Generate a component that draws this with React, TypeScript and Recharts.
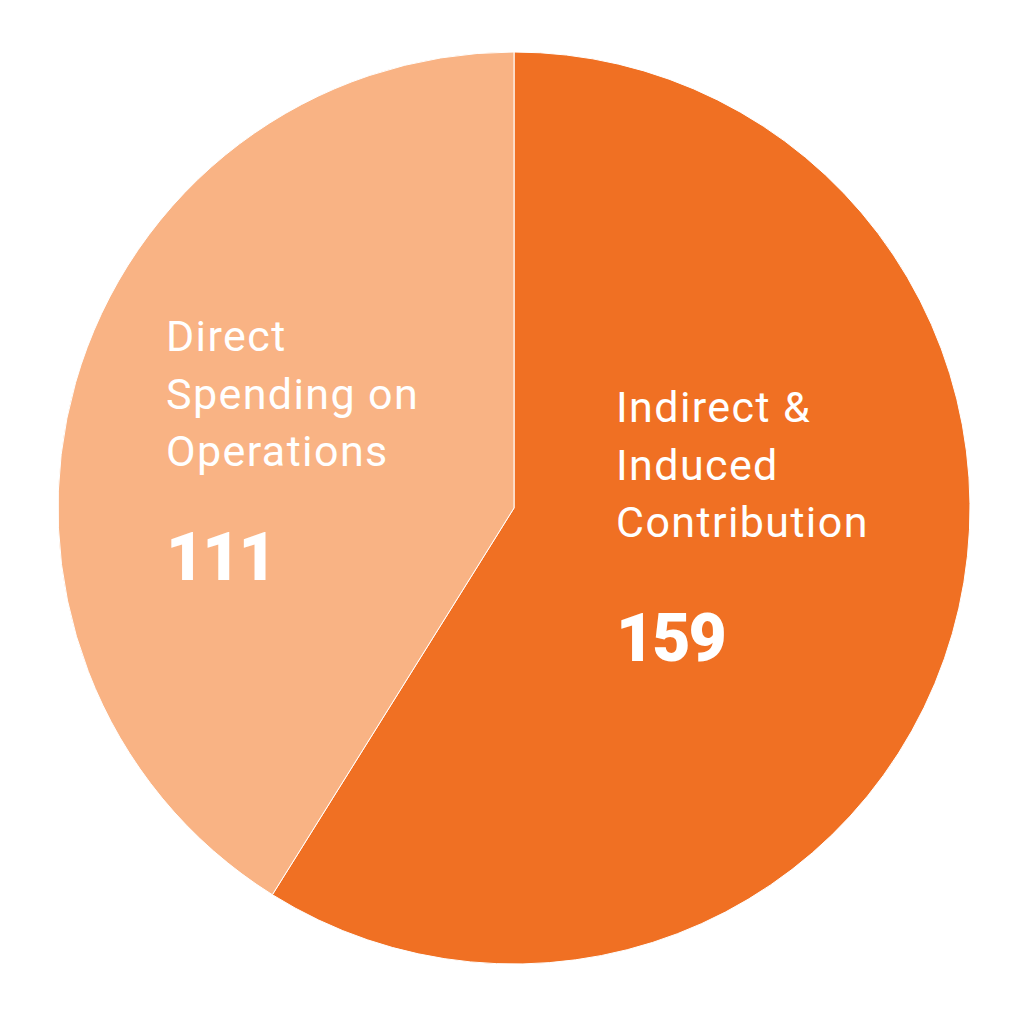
import React from "react";
import { PieChart, Pie, Cell } from "recharts";

const categories = ["Indirect & Induced Contribution", "Direct Spending on Operations"];
const values = [159, 111];
const labelLines = [
  ["Indirect &", "Induced", "Contribution"],
  ["Direct", "Spending on", "Operations"],
];
const colors = ["#F07023", "#F9B384"];

const data = categories.map((name, i) => ({ name, value: values[i], lines: labelLines[i] }));

// label layout offsets relative to pie centre (layout, not data)
const labelOffsets = [
  { dx: 102, dy: -86, valueDy: 153 },
  { dx: -348, dy: -157, valueDy: 72 },
];

const FONT = "Roboto, 'DejaVu Sans', sans-serif";

const renderLabel = (props: any) => {
  const { cx, cy, index, payload } = props;
  const off = labelOffsets[index];
  const x = cx + off.dx;
  const lines: string[] = payload.lines ?? (payload.payload && payload.payload.lines) ?? [];
  return (
    <g>
      <text x={x} y={cy + off.dy} fill="#fff" fontFamily={FONT} fontSize={43} letterSpacing={1.4} textAnchor="start">
        {lines.map((l, i) => (
          <tspan key={i} x={x} dy={i === 0 ? 0 : 57.5}>
            {l}
          </tspan>
        ))}
      </text>
      <text x={x} y={cy + off.valueDy} fill="#fff" fontFamily={FONT} fontSize={66} fontWeight={900} letterSpacing={-2} textAnchor="start">
        {payload.value ?? values[index]}
      </text>
    </g>
  );
};

export default function App() {
  return (
    <div style={{ position: "absolute", left: 0, top: 0, width: 1024, height: 1024, background: "#fff" }}>
      <PieChart width={1024} height={1024} margin={{ top: 0, right: 0, bottom: 0, left: 0 }}>
        <Pie
          data={data}
          dataKey="value"
          nameKey="name"
          cx={514}
          cy={508}
          outerRadius={456}
          startAngle={90}
          endAngle={-270}
          stroke="#fff"
          strokeWidth={1}
          label={renderLabel}
          labelLine={false}
          isAnimationActive={false}
        >
          {data.map((d, i) => (
            <Cell key={d.name} fill={colors[i]} />
          ))}
        </Pie>
      </PieChart>
    </div>
  );
}
